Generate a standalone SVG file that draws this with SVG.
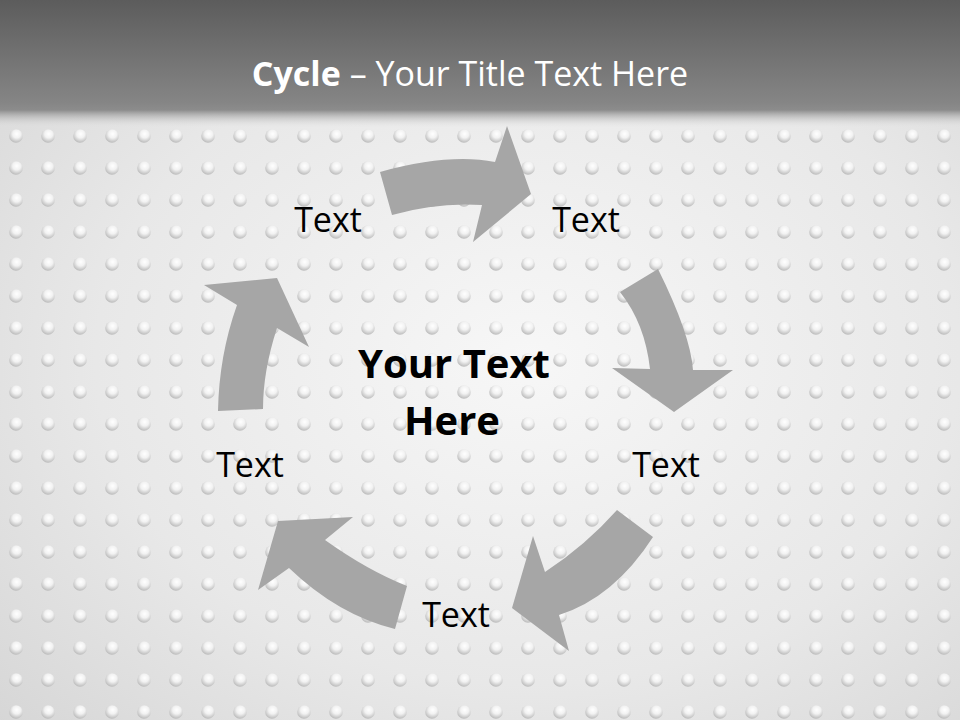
<svg xmlns="http://www.w3.org/2000/svg" width="960" height="720" viewBox="0 0 960 720">
  <defs>
    <radialGradient id="bgGrad" cx="0.55" cy="0.5" r="0.75">
      <stop offset="0" stop-color="#f7f7f7"/>
      <stop offset="0.6" stop-color="#e8e8e8"/>
      <stop offset="1" stop-color="#d6d6d6"/>
    </radialGradient>
    <linearGradient id="headGrad" x1="0" y1="0" x2="0" y2="1">
      <stop offset="0" stop-color="#5c5c5c"/>
      <stop offset="0.8" stop-color="#858585"/>
      <stop offset="0.86" stop-color="#8c8c8c"/>
      <stop offset="1" stop-color="#e6e6e6" stop-opacity="0"/>
    </linearGradient>
    <radialGradient id="dotGrad" cx="0.55" cy="0.35" r="0.65">
      <stop offset="0" stop-color="#ffffff"/>
      <stop offset="0.45" stop-color="#f2f2f2"/>
      <stop offset="1" stop-color="#bababa"/>
    </radialGradient>
    <pattern id="dots" patternUnits="userSpaceOnUse" x="0" y="120" width="32" height="32">
      <circle cx="16" cy="16" r="6.8" fill="url(#dotGrad)"/>
    </pattern>
    <style>
      .arrow { fill: #a6a6a6; }
      .lbl { font-family: "Open Sans", "Liberation Sans", sans-serif; font-size: 34px; fill: #000000; text-anchor: middle; }
      .center { font-family: "Open Sans", "Liberation Sans", sans-serif; font-size: 40px; font-weight: bold; fill: #000000; text-anchor: middle; }
      .title { font-family: "Open Sans", "Liberation Sans", sans-serif; font-size: 34px; fill: #ffffff; text-anchor: middle; }
    </style>
  </defs>

  <rect x="0" y="0" width="960" height="720" fill="url(#bgGrad)"/>
  <rect x="0" y="120" width="960" height="600" fill="url(#dots)"/>
  <rect x="0" y="0" width="960" height="128" fill="url(#headGrad)"/>

  <text class="title" x="470" y="86"><tspan font-weight="bold">Cycle</tspan> – Your Title Text Here</text>

  <g id="connectors">
    <path class="arrow" d="M 380,172 Q 448.5,153 495,162 L 507,126 L 531,194 L 473,242 L 482,205 Q 437,202 392,215 Z"/>
    <path class="arrow" d="M 658,269 Q 690.5,334.5 693,370 L 733,370 L 674,412 L 612,368 L 650,369 Q 645,323.5 620,292 Z"/>
    <path class="arrow" d="M 653,537 Q 614,597.5 559,615 L 569,651 L 512,608 L 533,536 L 545,572 Q 585.5,545.5 617,510 Z"/>
    <path class="arrow" d="M 395,629 Q 338,615 289,568 L 258,590 L 278,521 L 353,517 L 325,540 Q 367.5,570.4 407,586 Z"/>
    <path class="arrow" d="M 218,411 Q 219,355.5 237,305 L 204,285 L 277,278 L 309,347 L 277,328 Q 263,371 263,409 Z"/>
  </g>

  <g id="node-1"><text class="lbl" x="328" y="232">Text</text></g>
  <g id="node-2"><text class="lbl" x="586" y="232">Text</text></g>
  <g id="node-3"><text class="lbl" x="666" y="477">Text</text></g>
  <g id="node-4"><text class="lbl" x="456" y="627">Text</text></g>
  <g id="node-5"><text class="lbl" x="250" y="477">Text</text></g>

  <g id="center">
    <text class="center" x="454" y="378">Your Text</text>
    <text class="center" x="452" y="435">Here</text>
  </g>
</svg>
